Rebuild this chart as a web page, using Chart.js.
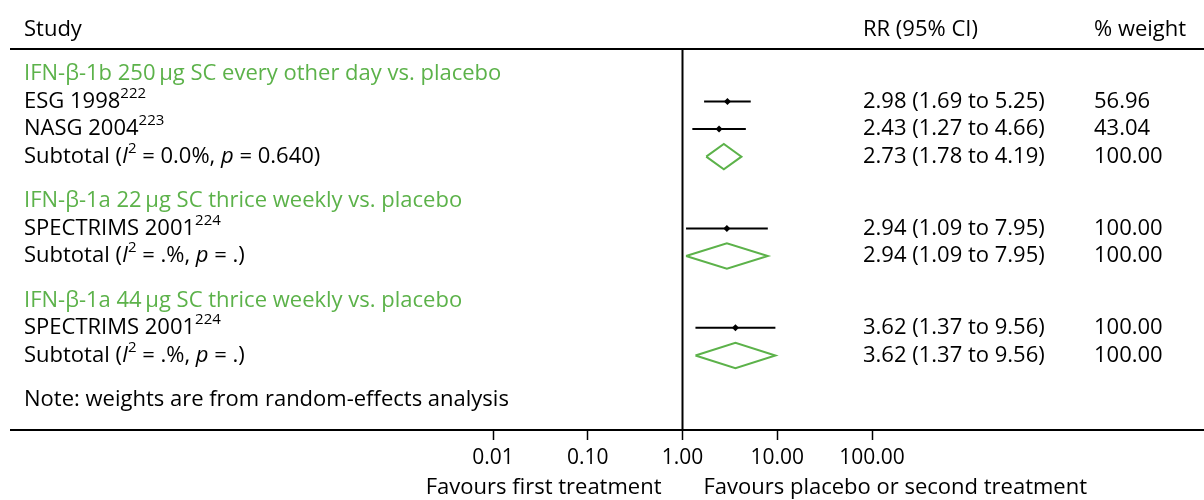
<!DOCTYPE html>
<html>
<head>
<meta charset="utf-8">
<script src="https://cdn.jsdelivr.net/npm/chart.js@4"></script>
<style>
  body { margin: 0; background: #fff; }
  #wrap { width: 1204px; height: 500px; }
</style>
</head>
<body>
<div id="wrap"><canvas id="forest" width="1204" height="500"></canvas></div>
<script>
// comparisons (one block per regimen)
const groupTitles = [
  'IFN-\u03b2-1b 250\u2009\u00b5g SC every other day vs. placebo',
  'IFN-\u03b2-1a 22\u2009\u00b5g SC thrice weekly vs. placebo',
  'IFN-\u03b2-1a 44\u2009\u00b5g SC thrice weekly vs. placebo'
];

// individual trials
const studyNames = ['ESG 1998', 'NASG 2004', 'SPECTRIMS 2001', 'SPECTRIMS 2001'];
const studyRefs = ['222', '223', '224', '224'];
const studyGroup = [0, 0, 1, 2];
const studyRR = [2.98, 2.43, 2.94, 3.62];
const studyLo = [1.69, 1.27, 1.09, 1.37];
const studyHi = [5.25, 4.66, 7.95, 9.56];
const studyWeight = ['56.96', '43.04', '100.00', '100.00'];

// pooled estimates per block
const subRR = [2.73, 2.94, 3.62];
const subLo = [1.78, 1.09, 1.37];
const subHi = [4.19, 7.95, 9.56];
const subI2 = ['0.0', '.', '.'];
const subP = ['0.640', '.', '.'];
const subWeight = ['100.00', '100.00', '100.00'];

const xTicks = [0.01, 0.1, 1, 10, 100];

const FONT = '"Open Sans", sans-serif';
const GREEN = '#5cb24a';
const SIZE = 22;

// row slots: heading, trials, subtotal, then a gap before the next block
const rows = [];
const studyPos = [];
const subPos = [];
let r = 0;
groupTitles.forEach((title, g) => {
  rows.push({ kind: 'group', g: g, pos: r });
  r += 1;
  studyGroup.forEach((sg, i) => {
    if (sg === g) {
      rows.push({ kind: 'study', i: i, pos: r });
      studyPos[i] = r;
      r += 1;
    }
  });
  rows.push({ kind: 'sub', g: g, pos: r });
  subPos[g] = r;
  r += 1.6;
});
rows.push({ kind: 'note', pos: r });

const DIAMOND_H = 0.46; // half height of the pooled diamond, in row units

const datasets = [];
studyRR.forEach((v, i) => {
  datasets.push({
    data: [{ x: studyLo[i], y: studyPos[i] }, { x: studyHi[i], y: studyPos[i] }],
    showLine: true, borderColor: '#000', borderWidth: 2, pointRadius: 0
  });
});
datasets.push({
  data: studyRR.map((v, i) => ({ x: v, y: studyPos[i] })),
  pointStyle: 'rectRot', pointRadius: 3.5, backgroundColor: '#000', borderColor: '#000', borderWidth: 0
});
subRR.forEach((v, g) => {
  const y = subPos[g];
  datasets.push({
    data: [
      { x: subLo[g], y: y },
      { x: v, y: y - DIAMOND_H },
      { x: subHi[g], y: y },
      { x: v, y: y + DIAMOND_H },
      { x: subLo[g], y: y }
    ],
    showLine: true, borderColor: GREEN, borderWidth: 2, pointRadius: 0, tension: 0
  });
});

function drawRich(ctx, parts, x, y, color) {
  ctx.fillStyle = color;
  ctx.textBaseline = 'middle';
  ctx.textAlign = 'left';
  parts.forEach(p => {
    const size = p.sup ? 15 : SIZE;
    ctx.font = (p.it ? 'italic ' : '') + size + 'px ' + FONT;
    ctx.fillText(p.t, x, y + (p.sup ? -8 : 0));
    x += ctx.measureText(p.t).width;
  });
}

const tablePlugin = {
  id: 'forestTable',
  afterDraw(chart) {
    const ctx = chart.ctx;
    const xs = chart.scales.x;
    const ys = chart.scales.y;
    const area = chart.chartArea;
    const x1 = xs.getPixelForValue(1);
    ctx.save();

    // rules and the line of no effect
    ctx.strokeStyle = '#000';
    ctx.lineWidth = 2;
    ctx.beginPath();
    ctx.moveTo(10, area.top); ctx.lineTo(1204, area.top);
    ctx.moveTo(10, area.bottom); ctx.lineTo(1204, area.bottom);
    ctx.stroke();
    ctx.beginPath();
    ctx.moveTo(x1, area.top); ctx.lineTo(x1, area.bottom);
    ctx.stroke();

    const colStudy = 24, colRR = 863, colW = 1094;
    const head = area.top - 19;
    drawRich(ctx, [{ t: 'Study' }], colStudy, head, '#000');
    drawRich(ctx, [{ t: 'RR (95% CI)' }], colRR, head, '#000');
    drawRich(ctx, [{ t: '% weight' }], colW, head, '#000');

    const fmt = (e, lo, hi) => e.toFixed(2) + ' (' + lo.toFixed(2) + ' to ' + hi.toFixed(2) + ')';
    const eq = ' = ';

    rows.forEach(row => {
      const y = ys.getPixelForValue(row.pos);
      if (row.kind === 'group') {
        drawRich(ctx, [{ t: groupTitles[row.g] }], colStudy, y, GREEN);
      } else if (row.kind === 'study') {
        const i = row.i;
        drawRich(ctx, [{ t: studyNames[i] }, { t: studyRefs[i], sup: true }], colStudy, y, '#000');
        drawRich(ctx, [{ t: fmt(studyRR[i], studyLo[i], studyHi[i]) }], colRR, y, '#000');
        drawRich(ctx, [{ t: studyWeight[i] }], colW, y, '#000');
      } else if (row.kind === 'sub') {
        const g = row.g;
        drawRich(ctx, [
          { t: 'Subtotal (' }, { t: 'I', it: true }, { t: '2', sup: true },
          { t: eq + subI2[g] + '%, ' }, { t: 'p', it: true },
          { t: eq + subP[g] + ')' }
        ], colStudy, y, '#000');
        drawRich(ctx, [{ t: fmt(subRR[g], subLo[g], subHi[g]) }], colRR, y, '#000');
        drawRich(ctx, [{ t: subWeight[g] }], colW, y, '#000');
      } else {
        drawRich(ctx, [{ t: 'Note: weights are from random-effects analysis' }], colStudy, y, '#000');
      }
    });

    // direction labels under the axis
    ctx.font = SIZE + 'px ' + FONT;
    ctx.fillStyle = '#000';
    ctx.textBaseline = 'middle';
    ctx.textAlign = 'right';
    ctx.fillText('Favours first treatment', x1 - 21, 488);
    ctx.textAlign = 'left';
    ctx.fillText('Favours placebo or second treatment', x1 + 21, 488);
    ctx.restore();
  }
};

new Chart(document.getElementById('forest'), {
  type: 'scatter',
  data: { datasets: datasets },
  options: {
    responsive: false,
    animation: false,
    devicePixelRatio: 1,
    layout: { padding: { left: 493, right: 332, top: 49, bottom: 30 } },
    plugins: { legend: { display: false }, tooltip: { enabled: false } },
    scales: {
      x: {
        type: 'logarithmic',
        min: 0.01,
        max: 100,
        afterBuildTicks: s => { s.ticks = xTicks.map(v => ({ value: v })); },
        afterFit: s => { s.height = 40; },
        border: { display: false },
        grid: { drawOnChartArea: false, tickLength: 10, tickWidth: 1.5, tickColor: '#000' },
        ticks: {
          color: '#000',
          font: { family: FONT, size: 21 },
          padding: 5,
          maxRotation: 0,
          autoSkip: false,
          callback: v => Number(v).toFixed(2)
        }
      },
      y: { type: 'linear', reverse: true, min: -0.9, max: 12.9, display: false }
    }
  },
  plugins: [tablePlugin]
});
</script>
</body>
</html>
